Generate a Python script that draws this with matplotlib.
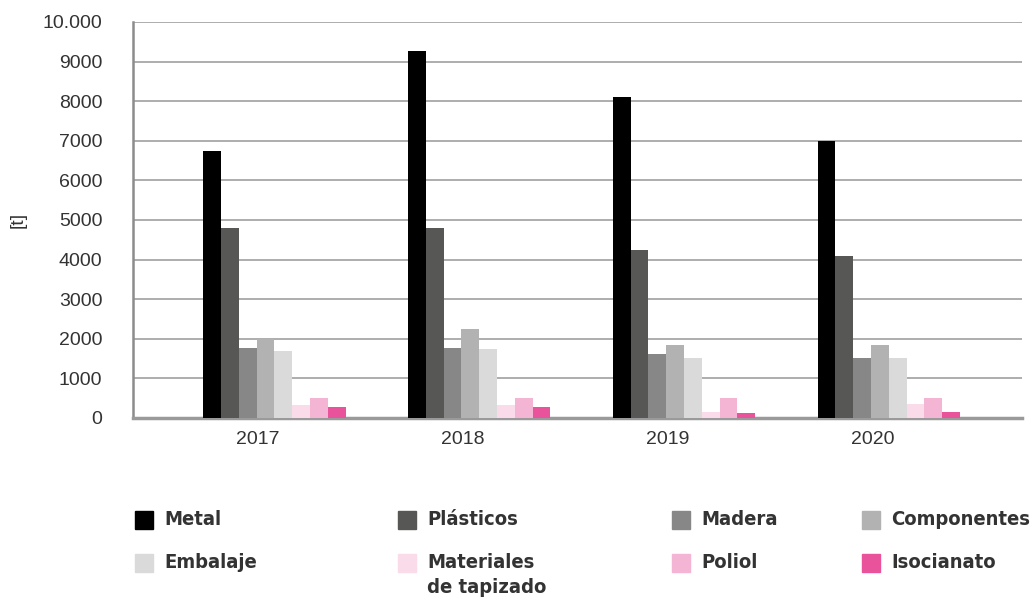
import numpy as np
import matplotlib.pyplot as plt
from matplotlib.patches import Rectangle

# data
years = ["2017", "2018", "2019", "2020"]
series = ["Metal", "Plásticos", "Madera", "Componentes",
          "Embalaje", "Materiales\nde tapizado", "Poliol", "Isocianato"]
metal = [6750, 9270, 8100, 7000]
plasticos = [4800, 4800, 4230, 4100]
madera = [1780, 1780, 1620, 1520]
componentes = [2000, 2250, 1850, 1850]
embalaje = [1680, 1730, 1520, 1520]
tapizado = [330, 330, 150, 350]
poliol = [500, 500, 500, 500]
isocianato = [270, 280, 130, 140]
values = [metal, plasticos, madera, componentes, embalaje, tapizado, poliol, isocianato]
colors = ["#000000", "#575756", "#878787", "#b2b2b2",
          "#dadada", "#fadbe9", "#f4b4d4", "#e8539b"]

txt = "#333333"
plt.rcParams['font.family'] = ['Liberation Sans', 'DejaVu Sans']

fig = plt.figure(figsize=(10.35, 6.01), dpi=100)
ax = fig.add_axes([133 / 1035, 1 - 418 / 601, (1022 - 133) / 1035, (418 - 22) / 601])

x = np.arange(len(years))
w = 0.087
for i, (vals, c) in enumerate(zip(values, colors)):
    ax.bar(x + (i - 3.5) * w, vals, width=w, color=c, zorder=3, linewidth=0)

ax.set_xlim(-0.69, 3.65)
ax.set_ylim(0, 10000)
yt = np.arange(0, 10001, 1000)
ax.set_yticks(yt)
ax.set_yticklabels([("10.000" if v == 10000 else str(v)) for v in yt])
ax.set_xticks(x - 0.08)
ax.set_xticklabels(years)
ax.tick_params(length=0, labelsize=14, colors=txt)
ax.tick_params(axis="y", pad=22)
ax.tick_params(axis="x", pad=9)
ax.grid(axis="y", color="#a0a0a0", linewidth=1.2, zorder=0)
for s in ["top", "right"]:
    ax.spines[s].set_visible(False)
ax.spines["left"].set_color("#8c8c8c")
ax.spines["left"].set_linewidth(1.8)
ax.spines["bottom"].set_color("#9a9a9a")
ax.spines["bottom"].set_linewidth(2.5)
ax.set_ylabel("[t]", color=txt, fontsize=14)
ax.yaxis.set_label_coords(-106 / 889, 0.5)

# legend drawn by hand: 2 rows x 4 columns
col_x = [135, 398, 672, 862]
row_y = [520, 563]
for k, (name, c) in enumerate(zip(series, colors)):
    px = col_x[k % 4]
    py = row_y[k // 4]
    fig.patches.append(Rectangle((px / 1035, 1 - (py + 9) / 601), 18 / 1035, 18 / 601,
                                 transform=fig.transFigure, color=c, figure=fig))
    fig.text((px + 29) / 1035, 1 - (py - 10) / 601, name, fontsize=14.5, fontweight="bold",
             color=txt, va="top", ha="left", fontstretch="condensed",
             family=['DejaVu Sans'], linespacing=1.4)

fig.savefig("out.png", dpi=100)
